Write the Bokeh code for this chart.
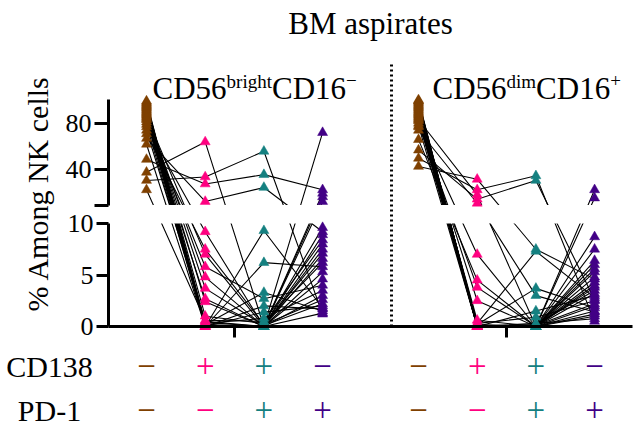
import math
from bokeh.plotting import figure
from bokeh.models import Range1d, LinearAxis, FixedTicker, CustomJSTickFormatter, ColumnDataSource
from bokeh.core.properties import value
from bokeh.embed import file_html
from bokeh.resources import INLINE

# ---------------- data ----------------
GROUP_COLORS = ["#7f4000", "#ff0080", "#148080", "#420086"]
CD138_SIGNS = ["\u2212", "+", "+", "\u2212"]
PD1_SIGNS = ["\u2212", "\u2212", "+", "+"]
ROW_LABELS = ["CD138", "PD-1"]
Y_TICKS_LOWER = [0, 5, 10]
Y_TICKS_UPPER = [40, 80]
TITLE = "BM aspirates"

# CD56bright CD16- : per donor values for the 4 groups
BRIGHT_NN = [99, 98, 97, 96, 95, 94, 93, 92, 91, 90, 89, 88, 87, 86, 85, 84, 83, 81, 79, 77, 74, 71, 67, 62, 49, 38, 31, 23]
BRIGHT_PN = [0.2, 0.0, 0.4, 1.0, 0.1, 0.0, 2.4, 0.3, 0.0, 3.7, 0.0, 4.8, 0.2, 7.0, 0.0, 2.7, 0.1, 5.8, 0.0, 9.2, 0.5, 7.5, 13, 0.0, 28, 64, 34, 0.6]
BRIGHT_PP = [0.0, 0.1, 0.0, 0.3, 0.0, 2.0, 0.0, 0.8, 0.0, 0.1, 1.4, 0.0, 3.3, 0.0, 6.2, 0.0, 0.0, 2.7, 9.3, 0.0, 0.0, 0.2, 25, 0.0, 36, 0.0, 56, 0.5]
BRIGHT_NP = [1.3, 2.2, 4.6, 6.2, 8.0, 1.7, 9.6, 3.5, 5.3, 7.1, 2.0, 8.9, 1.5, 13, 5.8, 17, 72, 4.0, 1.8, 6.6, 20, 2.6, 9.2, 7.5, 23, 3.0, 1.2, 8.4]

# CD56dim CD16+
DIM_NN = [100, 99, 99, 98, 97, 96, 95, 94, 93, 92, 91, 90, 89, 88, 87, 86, 85, 84, 83, 82, 80, 78, 74, 66, 57, 50, 43, 77]
DIM_PN = [0.0, 0.1, 0.0, 0.2, 0.0, 0.3, 0.0, 0.1, 0.0, 0.6, 0.0, 0.2, 0.0, 0.0, 0.1, 0.0, 2.5, 0.0, 18.6, 0.3, 3.8, 0.0, 11.5, 4.5, 15, 23, 32, 7.0]
DIM_PP = [0.0, 0.0, 0.2, 0.0, 0.0, 0.9, 0.0, 0.0, 1.5, 0.0, 0.0, 3.7, 0.0, 0.1, 0.0, 0.0, 0.0, 0.3, 0.0, 7.3, 0.0, 0.0, 3.0, 0.0, 31, 35, 7.5, 0.0]
DIM_NP = [1.0, 2.0, 3.5, 1.5, 4.8, 2.5, 6.4, 1.2, 3.0, 5.3, 8.7, 1.8, 4.3, 2.2, 7.5, 16, 3.8, 0.75, 5.6, 2.8, 4.0, 23, 1.4, 6.0, 2.6, 0.5, 4.6, 3.2]

PANELS = [
    ("bright", [BRIGHT_NN, BRIGHT_PN, BRIGHT_PP, BRIGHT_NP]),
    ("dim", [DIM_NN, DIM_PN, DIM_PP, DIM_NP]),
]

# ---------------- layout (screen pixel helpers) ----------------
FIG_W, FIG_H = 641, 439
X0_PX, X_STEP = 146.0, 58.7      # screen px of first group, px per group
Y0_PX, Y_STEP = 326.0, 10.3      # screen px of value 0, px per unit (lower segment)
UP_STEP = 1.1675                 # px per unit on upper segment
UP10_PX = 204.5                  # screen px of value 10 on upper segment
PANEL_SHIFT = (418.0 - 146.0) / X_STEP


def ux(px):
    return (px - X0_PX) / X_STEP


def uy(py):
    return (Y0_PX - py) / Y_STEP


UP_BASE = uy(UP10_PX)
UP_K = UP_STEP / Y_STEP


def tr(v):
    """broken-axis transform: 0-10 lower segment, 10-100 compressed upper segment"""
    return v if v <= 10 else UP_BASE + (v - 10) * UP_K


AXIS_X = ux(108)
SERIF = "Liberation Serif"

p = figure(width=FIG_W, height=FIG_H,
           x_range=Range1d(ux(0), ux(FIG_W)),
           y_range=Range1d(uy(FIG_H), uy(0)),
           x_axis_type=None, y_axis_type=None,
           toolbar_location=None, output_backend="svg",
           min_border=0, outline_line_color=None)

# donor lines
for pi, (name, groups) in enumerate(PANELS):
    xs, ys = [], []
    n = len(groups[0])
    for i in range(n):
        xs.append([pi * PANEL_SHIFT + g for g in range(4)])
        ys.append([tr(groups[g][i]) for g in range(4)])
    p.multi_line(xs, ys, line_color="black", line_width=1.1)

# axis break gap
p.quad(left=[ux(0)], right=[ux(FIG_W)], bottom=[10], top=[UP_BASE],
       fill_color="white", line_color=None)

# markers
for pi, (name, groups) in enumerate(PANELS):
    for g in range(4):
        vals = groups[g]
        src = ColumnDataSource(dict(x=[pi * PANEL_SHIFT + g] * len(vals), y=[tr(v) for v in vals]))
        p.scatter("x", "y", source=src, marker="triangle", size=10,
                  fill_color=GROUP_COLORS[g], line_color=GROUP_COLORS[g], line_width=0.5)

# dotted separator
SEP_X = ux(391)
p.segment(x0=[SEP_X], y0=[0], x1=[SEP_X], y1=[uy(62)], line_color="black",
          line_width=3, line_dash="2 3")

# axes
common = dict(axis_line_width=3, major_tick_line_width=3, major_tick_in=0,
              minor_tick_line_color=None, major_label_text_font=SERIF,
              major_label_text_font_size="26px", major_label_text_color="black",
              major_label_standoff=3)
yl = LinearAxis(fixed_location=AXIS_X, bounds=(0, 10),
                ticker=FixedTicker(ticks=Y_TICKS_LOWER), major_tick_out=12, **common)
p.add_layout(yl, "left")
fmt = CustomJSTickFormatter(code="const v = Math.round(10 + (tick - %r) / %r); return v <= 10 ? '' : String(v);" % (UP_BASE, UP_K))
yu = LinearAxis(fixed_location=AXIS_X, bounds=(UP_BASE, tr(100)),
                ticker=FixedTicker(ticks=[UP_BASE] + [tr(v) for v in Y_TICKS_UPPER]),
                formatter=fmt, major_tick_out=14, **common)
p.add_layout(yu, "left")
xa = LinearAxis(fixed_location=0, bounds=(AXIS_X, ux(632)),
                ticker=FixedTicker(ticks=[1.5, PANEL_SHIFT + 1.5]),
                formatter=CustomJSTickFormatter(code="return '';"),
                axis_line_width=3, major_tick_line_width=3, major_tick_in=0,
                major_tick_out=11, minor_tick_line_color=None)
p.add_layout(xa, "below")

# texts (positions given as visual centres, in screen px)
def txt(x, y, s, size, color="black", align="left", angle=0.0):
    p.text(x=[x], y=[y], text=[s], text_font=value(SERIF), text_font_size=size,
           text_color=color, text_align=align, text_baseline="middle", angle=angle)

txt(ux(370), uy(23), TITLE, "31px", align="center")

BIG, SUP = 31, 19
W_CD56 = 2.389 * BIG


def subtitle(x0, sup1, sup1_w, sup2):
    txt(ux(x0), uy(88), "CD56", f"{BIG}px")
    txt(ux(x0 + W_CD56), uy(80.5), sup1, f"{SUP}px")
    x2 = x0 + W_CD56 + sup1_w * SUP
    txt(ux(x2), uy(88), "CD16", f"{BIG}px")
    txt(ux(x2 + W_CD56), uy(80), sup2, f"{SUP}px")

subtitle(152, "bright", 2.389, "\u2212")
subtitle(432, "dim", 1.556, "+")

txt(ux(37), uy(193), "% Among NK cells", "30px", align="center", angle=math.pi / 2)

ROW_Y = [366, 410]
for r, (lab, signs) in enumerate(zip(ROW_LABELS, [CD138_SIGNS, PD1_SIGNS])):
    txt(ux(49), uy(ROW_Y[r]), lab, "30px", align="center")
    for pi in range(2):
        for g in range(4):
            txt(pi * PANEL_SHIFT + g, uy(ROW_Y[r] - 1), signs[g], "33px",
                color=GROUP_COLORS[g], align="center")

open("out.html", "w").write(file_html(p, INLINE))
